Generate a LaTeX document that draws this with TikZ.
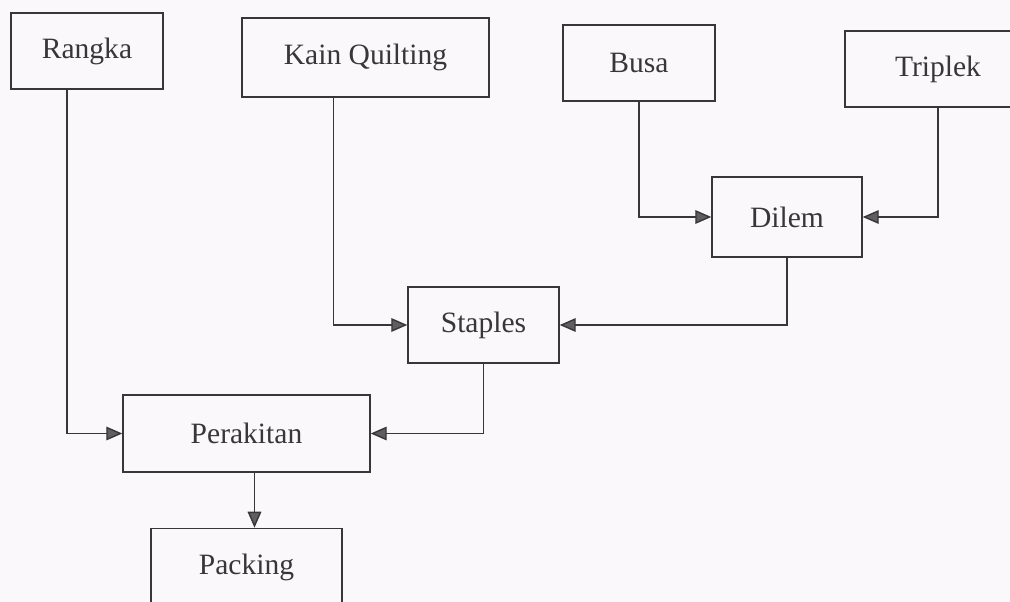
\documentclass[tikz,border=0pt]{standalone}
\usepackage{fontspec}
\setmainfont{Liberation Serif}
\usepackage{tikz}
\usepackage{xcolor}
\usetikzlibrary{arrows.meta, positioning, calc}
\definecolor{cPaper}{RGB}{250,248,250}
\definecolor{cInk}{RGB}{55,55,55}
\definecolor{cTip}{RGB}{95,95,95}
\tikzset{
	procbox/.style={rectangle, draw=cInk, line width=1pt, text=cInk, inner sep=0pt, text centered, minimum height=1.9cm},
	flowarrow/.style={-{Triangle[length=0.4cm, width=0.34cm, fill=cTip]}, draw=cInk, line width=1pt},
}
\begin{document}
\begin{tikzpicture}[x=0.025cm, y=-0.025cm, font=\fontsize{21}{25}\selectfont]
	\fill[cPaper] (0,0) rectangle (1010,602);
	\useasboundingbox (0,0) rectangle (1010,602);
	\clip (0,0) rectangle (1010,602);
	% bahan baku
	\node[procbox, minimum width=3.8cm] (rangka) at (87,51) {Rangka};
	\node[procbox, minimum width=6.175cm, minimum height=1.975cm] (kain) at (365.5,57.5) {Kain Quilting};
	\node[procbox, minimum width=3.8cm] (busa) at (639,63) {Busa};
	\node[procbox, minimum width=4.65cm] (triplek) at (938,69) {Triplek};
	% proses
	\node[procbox, minimum width=3.75cm, minimum height=2cm] (dilem) at (787,217) {Dilem};
	\node[procbox, minimum width=3.775cm] (staples) at (483.5,325) {Staples};
	\node[procbox, minimum width=6.175cm, minimum height=1.925cm] (perakitan) at (246.5,433.5) {Perakitan};
	\node[procbox, minimum width=4.775cm, minimum height=1.95cm, below=1.375cm of perakitan] (packing) {Packing};
	% alur
	\draw[flowarrow] ($(rangka.south west)!0.37!(rangka.south east)$) |- (perakitan.west);
	\draw[flowarrow] ($(kain.south west)!0.372!(kain.south east)$) |- (staples.west);
	\draw[flowarrow] (busa.south) |- (dilem.west);
	\draw[flowarrow] (triplek.south) |- (dilem.east);
	\draw[flowarrow] (dilem.south) |- (staples.east);
	\draw[flowarrow] (staples.south) |- (perakitan.east);
	\draw[flowarrow] ([xshift=0.2cm]perakitan.south) -- ([xshift=0.2cm]packing.north);
\end{tikzpicture}
\end{document}
